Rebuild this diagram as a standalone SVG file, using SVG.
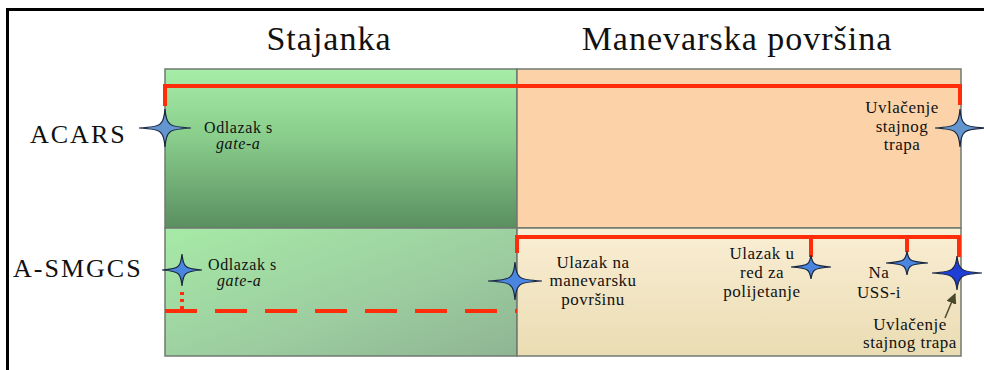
<svg xmlns="http://www.w3.org/2000/svg" width="984" height="370" viewBox="0 0 984 370">
<defs>
<linearGradient id="gTopL" x1="0" y1="0" x2="0" y2="1">
<stop offset="0" stop-color="#a6eea8"/><stop offset="0.45" stop-color="#88cb8a"/><stop offset="1" stop-color="#5a8f60"/>
</linearGradient>
<linearGradient id="gBotL" x1="0" y1="0" x2="1" y2="1">
<stop offset="0" stop-color="#a6eaa6"/><stop offset="0.6" stop-color="#9ccca0"/><stop offset="1" stop-color="#8eb592"/>
</linearGradient>
<linearGradient id="gBotR" x1="0" y1="0" x2="0" y2="1">
<stop offset="0" stop-color="#faeed5"/><stop offset="1" stop-color="#eadcb2"/>
</linearGradient>
<marker id="arr" viewBox="0 0 10 10" refX="9" refY="5" markerWidth="7" markerHeight="7" orient="auto">
<path d="M0,0 L10,5 L0,10 Z" fill="#4a4a2c"/>
</marker>
<style>
.t{font-family:"Liberation Serif","Times New Roman",serif;fill:#111}
.h{font-size:34px;letter-spacing:1px}
.r{font-size:26px;letter-spacing:2px}
.s{font-size:16px;letter-spacing:0.6px}
.m{font-size:17px;letter-spacing:0.5px}
.i{font-style:italic}
.red{stroke:#ff2d0a;stroke-width:4;fill:none}
.st{stroke:#1b2740;stroke-width:1.2}
.st1{fill:#6396cf}
.st2{fill:#4a86e0}
.st3{fill:#1f3ed6}
.panel{stroke:#6f7a70;stroke-width:1.5}
</style>
</defs>
<rect width="984" height="370" fill="#ffffff"/>
<path d="M7.5,370 V9.5 H984" fill="none" stroke="#000" stroke-width="3"/>

<g id="panels">
<rect class="panel" x="165" y="69" width="352" height="159" fill="url(#gTopL)"/>
<rect class="panel" x="517" y="69" width="444" height="159" fill="#fcd3a8"/>
<rect class="panel" x="165" y="228" width="352" height="128" fill="url(#gBotL)"/>
<rect class="panel" x="517" y="228" width="444" height="128" fill="url(#gBotR)"/>
</g>

<g id="headers">
<text class="t h" x="329" y="50" text-anchor="middle">Stajanka</text>
<text class="t h" x="737" y="50" text-anchor="middle">Manevarska površina</text>
<text class="t r" x="30" y="143">ACARS</text>
<text class="t r" x="13" y="277">A-SMGCS</text>
</g>

<g id="connectors">
<path class="red" d="M165,106 V86 H960 V105"/>
<path class="red" d="M517,253 V237 H959 V257 M811,237 V257 M907,237 V252"/>
<path class="red" d="M182,292 V310" stroke-dasharray="3 4"/>
<path class="red" d="M165,311 H517" stroke-dasharray="32 18"/>
<line x1="945" y1="318" x2="955" y2="294" stroke="#4a4a2c" stroke-width="1.5" marker-end="url(#arr)"/>
</g>

<g id="acars-gate">
<path class="st st1" transform="translate(165,128)" d="M0,-19 Q1,-7 4.5,-4.5 Q7,-1 26,0 Q7,1 4.5,4.5 Q1,7 0,19 Q-1,7 -4.5,4.5 Q-7,1 -26,0 Q-7,-1 -4.5,-4.5 Q-1,-7 0,-19Z"/>
<text class="t s" x="204" y="133">Odlazak s</text>
<text class="t s i" x="216" y="149">gate-a</text>
</g>
<g id="acars-gear">
<path class="st st1" transform="translate(960,128)" d="M0,-19 Q1,-7 4.5,-4.5 Q7,-1 25,0 Q7,1 4.5,4.5 Q1,7 0,19 Q-1,7 -4.5,4.5 Q-7,1 -25,0 Q-7,-1 -4.5,-4.5 Q-1,-7 0,-19Z"/>
<text class="t m" x="902" y="113" text-anchor="middle">Uvlačenje</text>
<text class="t m" x="902" y="132" text-anchor="middle">stajnog</text>
<text class="t m" x="902" y="150" text-anchor="middle">trapa</text>
</g>
<g id="asmgcs-gate">
<path class="st st2" transform="translate(182,270)" d="M0,-16 Q1,-6 3.8,-3.8 Q6,-1 20,0 Q6,1 3.8,3.8 Q1,6 0,16 Q-1,6 -3.8,3.8 Q-6,1 -20,0 Q-6,-1 -3.8,-3.8 Q-1,-6 0,-16Z"/>
<text class="t s" x="208" y="270">Odlazak s</text>
<text class="t s i" x="217" y="286">gate-a</text>
</g>
<g id="asmgcs-entry">
<path class="st st2" transform="translate(515,281)" d="M0,-19 Q1,-7 4.5,-4.5 Q7,-1 27,0 Q7,1 4.5,4.5 Q1,7 0,19 Q-1,7 -4.5,4.5 Q-7,1 -27,0 Q-7,-1 -4.5,-4.5 Q-1,-7 0,-19Z"/>
<text class="t m" x="593" y="268" text-anchor="middle">Ulazak na</text>
<text class="t m" x="593" y="286" text-anchor="middle">manevarsku</text>
<text class="t m" x="593" y="305" text-anchor="middle">površinu</text>
</g>
<g id="asmgcs-lineup">
<path class="st st2" transform="translate(811,267)" d="M0,-12 Q1,-5 3.5,-3.2 Q6,-1 20,0 Q6,1 3.5,3.2 Q1,5 0,12 Q-1,5 -3.5,3.2 Q-6,1 -20,0 Q-6,-1 -3.5,-3.2 Q-1,-5 0,-12Z"/>
<text class="t m" x="762" y="259" text-anchor="middle">Ulazak u</text>
<text class="t m" x="762" y="278" text-anchor="middle">red za</text>
<text class="t m" x="762" y="297" text-anchor="middle">polijetanje</text>
</g>
<g id="asmgcs-runway">
<path class="st st2" transform="translate(907,263)" d="M0,-12 Q1,-5 3.5,-3.2 Q6,-1 21,0 Q6,1 3.5,3.2 Q1,5 0,12 Q-1,5 -3.5,3.2 Q-6,1 -21,0 Q-6,-1 -3.5,-3.2 Q-1,-5 0,-12Z"/>
<text class="t m" x="879" y="278" text-anchor="middle">Na</text>
<text class="t m" x="879" y="298" text-anchor="middle">USS-i</text>
</g>
<g id="asmgcs-gear">
<path class="st st3" transform="translate(957,273)" d="M0,-17 Q1,-7 4.5,-4.5 Q7,-1 25,0 Q7,1 4.5,4.5 Q1,7 0,17 Q-1,7 -4.5,4.5 Q-7,1 -25,0 Q-7,-1 -4.5,-4.5 Q-1,-7 0,-17Z"/>
<text class="t m" x="910" y="330" text-anchor="middle">Uvlačenje</text>
<text class="t m" x="910" y="348" text-anchor="middle">stajnog trapa</text>
</g>
</svg>
